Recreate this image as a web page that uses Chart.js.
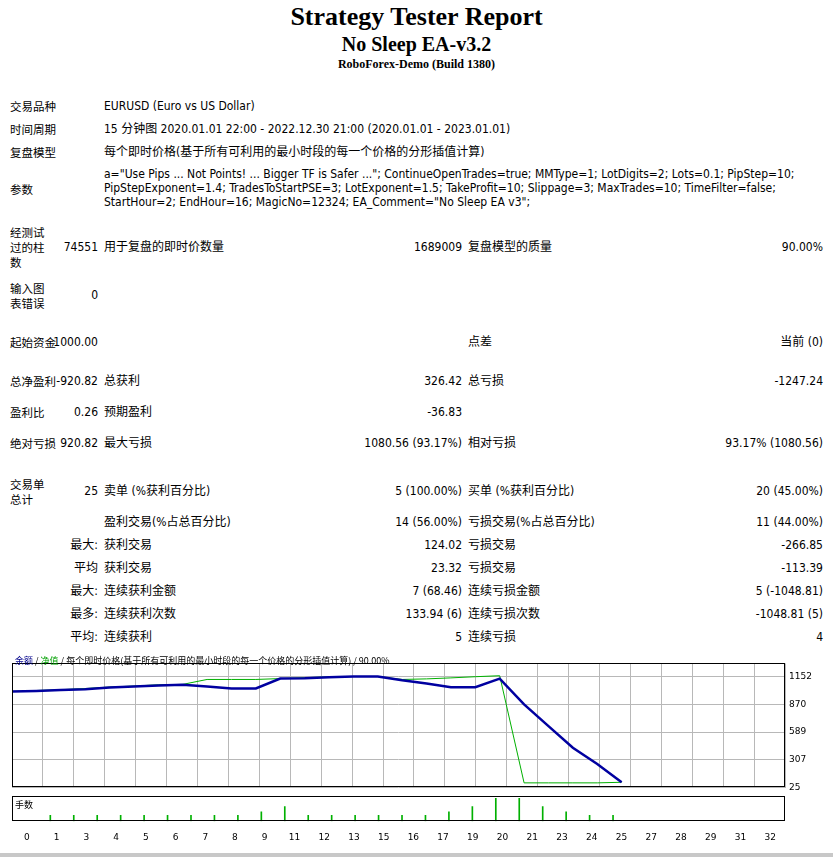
<!DOCTYPE html>
<html><head><meta charset="utf-8">
<script src="https://cdn.jsdelivr.net/npm/chart.js@4.4.1/dist/chart.umd.min.js"></script>
<style>
body{margin:0;width:833px;height:857px;position:relative;background:#fff;font-family:"DejaVu Sans Condensed","Liberation Sans","Noto Sans CJK SC",sans-serif;font-size:12px;color:#000;overflow:hidden}
.t{position:absolute;white-space:nowrap;line-height:15px}
.c{position:absolute;font-family:"Liberation Serif",serif;font-weight:bold;left:0;width:833px;text-align:center}
.l{position:absolute;left:10px;width:38px;line-height:15px;font-family:"Noto Sans CJK SC",sans-serif;font-size:11.5px}
.r{text-align:right}
canvas{position:absolute}
</style></head><body>
<div class="c" style="top:2px;font-size:26px">Strategy Tester Report</div>
<div class="c" style="top:33px;font-size:20px">No Sleep EA-v3.2</div>
<div class="c" style="top:57px;font-size:12px">RoboForex-Demo (Build 1380)</div>
<div id="txt"></div>
<canvas id="main" width="821" height="143" style="left:12px;top:654px"></canvas>
<canvas id="lots" width="821" height="50" style="left:12px;top:796px"></canvas>
<div class="t" style="left:15px;top:655px;font-size:9px;font-family:'Noto Sans CJK SC';line-height:12px"><span style="color:#00008b">余额</span> / <span style="color:#00a000">净值</span> / 每个即时价格(基于所有可利用的最小时段的每一个价格的分形插值计算) / 90.00%</div>
<div class="t" style="left:15px;top:799px;font-size:9px;font-family:'Noto Sans CJK SC';line-height:12px">手数</div>
<div style="position:absolute;left:0;top:853px;width:833px;height:4px;background:#c8c8c8"></div>
<script>
const trades=[0,1,2,3,4,5,6,7,8,9,10,11,12,13,14,15,16,17,18,19,20,21,22,23,24,25];
const balance=[1000,1006,1015,1024,1040,1050,1062,1069,1050,1031,1031,1131,1134,1145,1152,1152,1113,1082,1043,1043,1131,870,648,430,265,79];
const equity=[1000,1010,1018,1030,1045,1055,1068,1072,1122,1122,1122,1131,1140,1148,1152,1152,1122,1128,1138,1150,1160,73,73,73,73,79];
const lots=[null,0.1,0.1,0.1,0.1,0.1,0.1,0.1,0.1,0.1,0.16,0.25,0.1,0.1,0.1,0.1,0.1,0.1,0.16,0.25,0.39,0.39,0.25,0.16,0.1,0.1];
const xTickLabels=["0","1","3","4","5","6","7","8","9","11","12","13","15","16","17","19","20","21","23","24","25","27","28","29","31","32"];
const yTickLabels=[25,307,589,870,1152];

// text rows: [top, label, v1, l2, v2, l3, v3]
const rows=[
 [99,"交易品种",null,"EURUSD (Euro vs US Dollar)"],
 [122,"时间周期",null,"15 分钟图 2020.01.01 22:00 - 2022.12.30 21:00 (2020.01.01 - 2023.01.01)"],
 [145,"复盘模型",null,"每个即时价格(基于所有可利用的最小时段的每一个价格的分形插值计算)"],
 [182,"参数",null,""],
 [240,"经测试过的柱数","74551","用于复盘的即时价数量","1689009","复盘模型的质量","90.00%"],
 [288,"输入图表错误","0"],
 [335,"起始资金","1000.00","","","点差","当前 (0)"],
 [374,"总净盈利","-920.82","总获利","326.42","总亏损","-1247.24"],
 [405,"盈利比","0.26","预期盈利","-36.83"],
 [436,"绝对亏损","920.82","最大亏损","1080.56 (93.17%)","相对亏损","93.17% (1080.56)"],
 [484,"交易单总计","25","卖单 (%获利百分比)","5 (100.00%)","买单 (%获利百分比)","20 (45.00%)"],
 [515,"",null,"盈利交易(%占总百分比)","14 (56.00%)","亏损交易(%占总百分比)","11 (44.00%)"],
 [538,"","最大:","获利交易","124.02","亏损交易","-266.85"],
 [561,"","平均","获利交易","23.32","亏损交易","-113.39"],
 [584,"","最大:","连续获利金额","7 (68.46)","连续亏损金额","5 (-1048.81)"],
 [607,"","最多:","连续获利次数","133.94 (6)","连续亏损次数","-1048.81 (5)"],
 [630,"","平均:","连续获利","5","连续亏损","4"]
];
let h="";
for(const r of rows){
  const [top,l,v1,l2,v2,l3,v3]=r;
  const lines=l.length>4?Math.ceil(l.length/3):1;
  const lt=top-(lines-1)*7.5;
  if(l) h+=`<div class="l" style="top:${lt}px;${l.length>4?'':'width:80px'}">${l}</div>`;
  if(v1!=null) h+=`<div class="t r" style="top:${top}px;right:${833-98}px">${v1}</div>`;
  if(l2) h+=`<div class="t" style="top:${top}px;left:104px">${l2}</div>`;
  if(v2) h+=`<div class="t r" style="top:${top}px;right:${833-462}px">${v2}</div>`;
  if(l3) h+=`<div class="t" style="top:${top}px;left:468px">${l3}</div>`;
  if(v3) h+=`<div class="t r" style="top:${top}px;right:10px">${v3}</div>`;
}
h+=`<div class="t" style="top:167px;left:104px;line-height:14px">a="Use Pips ... Not Points! ... Bigger TF is Safer ..."; ContinueOpenTrades=true; MMType=1; LotDigits=2; Lots=0.1; PipStep=10;<br>PipStepExponent=1.4; TradesToStartPSE=3; LotExponent=1.5; TakeProfit=10; Slippage=3; MaxTrades=10; TimeFilter=false;<br>StartHour=2; EndHour=16; MagicNo=12324; EA_Comment="No Sleep EA v3";</div>`;
document.getElementById('txt').innerHTML=h;

const XMAX=31.7;
const xTicks=xTickLabels.map((_,i)=>({value:i*XMAX/25}));
const frame={id:'frame',afterDraw(c){const a=c.chartArea,x=c.ctx;x.save();x.strokeStyle='#000';x.lineWidth=1;x.strokeRect(Math.round(a.left)+0.5,Math.round(a.top)+0.5,Math.round(a.width)-1,Math.round(a.height)-1);x.restore();}};
const grid={color:'#b8b8b8',borderDash:[3,3],drawTicks:false};
const xAxis=(show)=>({type:'linear',min:0,max:XMAX,afterBuildTicks:s=>{s.ticks=xTicks.map(t=>({value:t.value}));},
  grid:show?{display:false}:grid,border:{display:false},
  ticks:{display:show,autoSkip:false,maxRotation:0,padding:3,color:'#000',font:{size:9,family:'DejaVu Sans'},callback:(v,i)=>xTickLabels[i]}});
Chart.defaults.animation=false;
new Chart(document.getElementById('main'),{type:'line',
 data:{datasets:[
  {data:trades.map((t,i)=>({x:t,y:balance[i]})),borderColor:'#0000a0',borderWidth:2.5,pointRadius:0,tension:0,order:1},
  {data:trades.map((t,i)=>({x:t,y:equity[i]})),borderColor:'#00b000',borderWidth:1,pointRadius:0,tension:0,order:2}]},
 options:{responsive:false,plugins:{legend:{display:false},tooltip:{enabled:false}},layout:{padding:0},
  scales:{x:xAxis(false),
   y:{position:'right',min:25,max:1285,afterBuildTicks:s=>{s.ticks=yTickLabels.map(v=>({value:v}));},afterFit:s=>{s.width=48;},
     grid:grid,border:{display:false},ticks:{padding:4,color:'#000',font:{size:9,family:'DejaVu Sans'},callback:v=>Math.round(v)}}}},
 plugins:[frame]});
new Chart(document.getElementById('lots'),{type:'bar',
 data:{datasets:[{data:trades.map((t,i)=>({x:t,y:lots[i]})),backgroundColor:'#00b000',barThickness:1}]},
 options:{responsive:false,plugins:{legend:{display:false},tooltip:{enabled:false}},layout:{padding:{right:48}},
  scales:{x:xAxis(true),y:{min:0,max:0.43,display:false}}},
 plugins:[frame]});
</script></body></html>
